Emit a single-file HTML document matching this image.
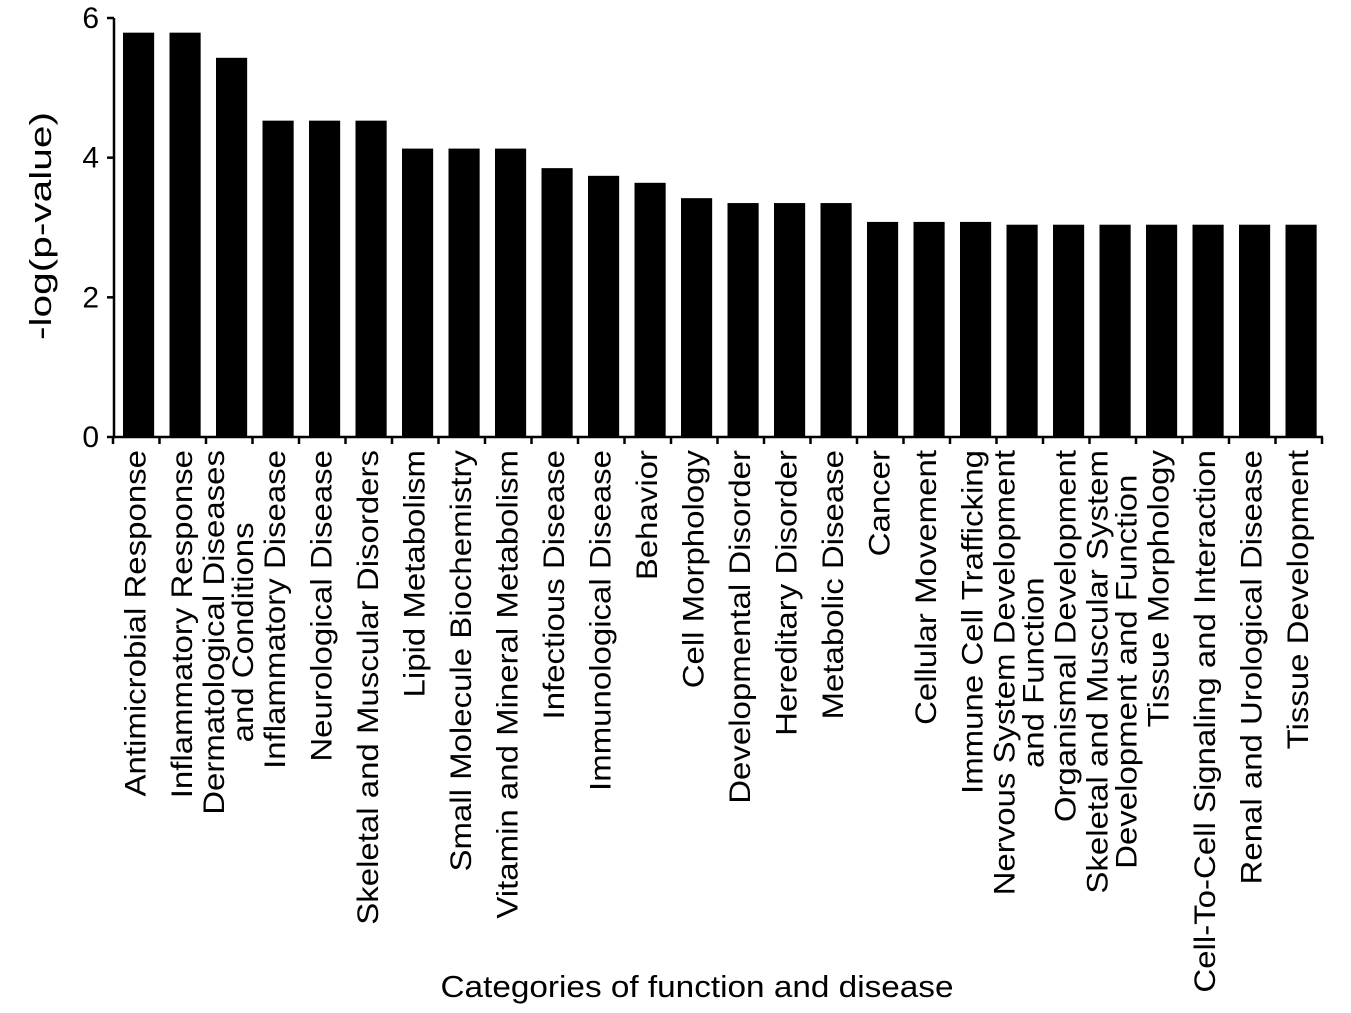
<!DOCTYPE html>
<html><head><meta charset="utf-8"><style>
body{margin:0;background:#fff;}
svg text{font-family:"Liberation Sans",Arial,sans-serif;fill:#000;}
</style></head><body>
<svg id="chart" width="1351" height="1008" xmlns="http://www.w3.org/2000/svg"></svg>
<script>
const categories = [
 ["Antimicrobial Response"],["Inflammatory Response"],["Dermatological Diseases","and Conditions"],
 ["Inflammatory Disease"],["Neurological Disease"],["Skeletal and Muscular Disorders"],
 ["Lipid Metabolism"],["Small Molecule Biochemistry"],["Vitamin and Mineral Metabolism"],
 ["Infectious Disease"],["Immunological Disease"],["Behavior"],["Cell Morphology"],
 ["Developmental Disorder"],["Hereditary Disorder"],["Metabolic Disease"],["Cancer"],
 ["Cellular Movement"],["Immune Cell Trafficking"],["Nervous System Development","and Function"],
 ["Organismal Development"],["Skeletal and Muscular System","Development and Function"],
 ["Tissue Morphology"],["Cell-To-Cell Signaling and Interaction"],["Renal and Urological Disease"],
 ["Tissue Development"]];
const values = [5.79,5.79,5.43,4.53,4.53,4.53,4.13,4.13,4.13,3.85,3.74,3.64,3.42,3.35,3.35,3.35,3.08,3.08,3.08,3.04,3.04,3.04,3.04,3.04,3.04,3.04];
const yTicks = [0,2,4,6];
const yTickLabels = ["0","2","4","6"];

const svg = document.getElementById('chart');
const NS = "http://www.w3.org/2000/svg";
const x0 = 113, x1 = 1322, yBase = 437, yTop = 18, yMax = 6;
const slot = (x1 - x0) / categories.length;
const y = v => yBase - v / yMax * (yBase - yTop);
const xs = i => x0 + i * slot;
function mk(tag, attrs, parent) {
  const e = document.createElementNS(NS, tag);
  for (const k in attrs) e.setAttribute(k, attrs[k]);
  (parent || svg).appendChild(e);
  return e;
}
values.forEach((v, i) => {
  const r = mk('rect', {x: xs(i) + 10, y: y(v), width: slot * 0.67, height: yBase - y(v), fill: '#000'});
  
  
});
const ya = mk('line', {x1: 114, y1: yTop, x2: 114, y2: yBase, stroke: '#000', 'stroke-width': 2.5});


const xa = mk('line', {x1: 113, y1: yBase, x2: x1 + 1, y2: yBase, stroke: '#000', 'stroke-width': 2.5});


yTicks.forEach((t, i) => {
  const l = mk('line', {x1: 107, y1: y(t), x2: 114, y2: y(t), stroke: '#000', 'stroke-width': 2.5});
  
  
  const tx = mk('text', {x: 99, y: y(t) + 10, 'text-anchor': 'end'});
  tx.style.fontSize = '30px';
  tx.textContent = yTickLabels[i];
  
  
});
for (let i = 0; i <= categories.length; i++) {
  const l = mk('line', {x1: xs(i), y1: yBase, x2: xs(i), y2: yBase + 7, stroke: '#000', 'stroke-width': 2.5});
  
  
}
categories.forEach((lines, i) => {
  const cx = xs(i) + slot * 0.5 - 2;
  const g = mk('g', {});
  
  
  const n = lines.length;
  lines.forEach((s, j) => {
    const bx = cx + (j - (n - 1) / 2) * 29 + 11;
    const t = mk('text', {'text-anchor': n > 1 ? 'middle' : 'end',
      transform: `translate(${bx},450) rotate(-90) scale(1.1,1)`}, g);
    t.style.fontSize = '30px';
    t.textContent = s;
  });
  if (n > 1) {
    const ts = g.querySelectorAll('text');
    let w = 0; ts.forEach(t => w = Math.max(w, t.getComputedTextLength()));
    ts.forEach((t, j) => {
      const bx = cx + (j - (n - 1) / 2) * 29 + 11;
      t.setAttribute('transform', `translate(${bx},${450 + w * 1.1 / 2}) rotate(-90) scale(1.1,1)`);
    });
  }
});
const yt = mk('text', {'text-anchor': 'middle', transform: 'translate(51,226) rotate(-90)', textLength: 228, lengthAdjust: 'spacingAndGlyphs'});
yt.style.fontSize = '31px';
yt.textContent = '-log(p-value)';


const xt = mk('text', {x: 697, y: 997, 'text-anchor': 'middle', textLength: 513, lengthAdjust: 'spacingAndGlyphs'});
xt.style.fontSize = '31px';
xt.textContent = 'Categories of function and disease';


</script>
</body></html>
